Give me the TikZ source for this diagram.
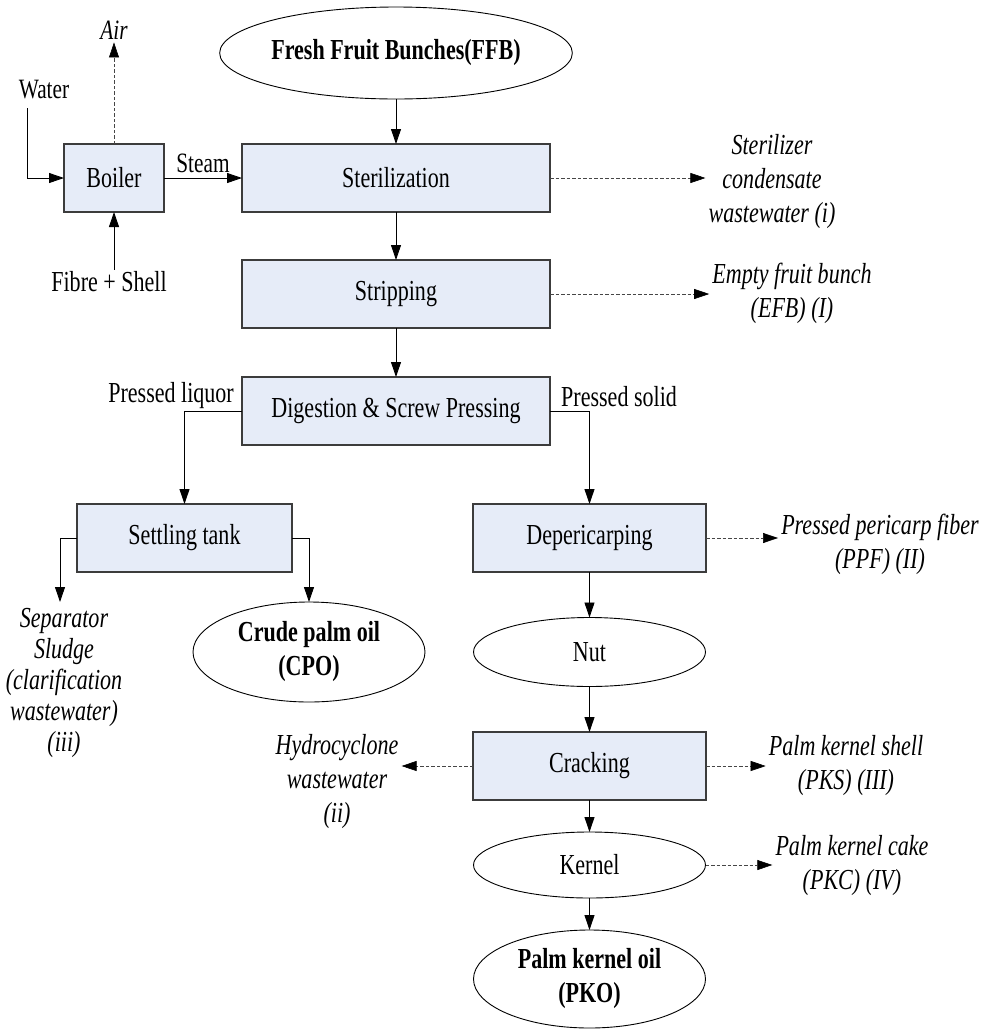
\documentclass[tikz,border=0pt]{standalone}
\usepackage{fontspec}
\setmainfont[FakeStretch=0.76]{Liberation Serif}
\usepackage{tikz}
\usetikzlibrary{arrows.meta, positioning, shapes.geometric}
\definecolor{boxfill}{RGB}{230,236,248}
\definecolor{boxline}{RGB}{60,60,60}
\definecolor{dashgray}{RGB}{70,70,70}
\newcommand{\mainsz}{\fontsize{29}{34}\selectfont}
\newcommand{\smallsz}{\fontsize{28}{32}\selectfont}

\begin{document}
\begin{tikzpicture}[x=1pt, y=-1pt,
  >={Triangle[length=15pt, width=10pt]},
  unit/.style={draw=boxline, fill=boxfill, line width=1.2pt, minimum height=68pt,
    inner sep=0pt, outer sep=0pt, font=\mainsz},
  prod/.style={draw, ellipse, line width=0.9pt, minimum width=232pt, inner sep=0pt,
    outer sep=0pt, align=center, font=\mainsz\bfseries},
  waste/.style={font=\mainsz\itshape, align=center, inner sep=3pt},
  lbl/.style={font=\mainsz, inner sep=2pt},
  flow/.style={->, line width=0.9pt},
  drain/.style={-{Triangle[length=15pt, width=10pt, color=black]}, dashed,
    dash pattern=on 3.5pt off 2pt, line width=0.6pt, draw=dashgray}
]
\useasboundingbox (0,0) rectangle (987,1029);

% process units
\node[unit, minimum width=100pt] (boiler) at (114,178) {Boiler};
\node[unit, minimum width=308pt] (steril) at (396,178) {Sterilization};
\node[unit, minimum width=308pt, below=48pt of steril] (strip) {Stripping};
\node[unit, minimum width=308pt, below=49pt of strip] (digest) {Digestion \& Screw Pressing};
\node[unit, minimum width=215pt] (settle) at (184.5,538) {Settling tank};
\node[unit, minimum width=233pt] (deper) at (589.5,538) {Depericarping};
\node[unit, minimum width=233pt] (crack) at (589.5,766) {Cracking};

% feed and products
\node[prod, minimum width=314pt, minimum height=92pt] (ffb) at (396,53) {Fresh Fruit Bunches(FFB)};
\node[prod, minimum height=100pt] (cpo) at (309,652) {Crude palm oil\\(CPO)};
\node[prod, font=\mainsz, minimum height=69pt] (nut) at (589.5,652) {Nut};
\node[prod, font=\mainsz, minimum height=66pt] (kernel) at (589.5,865) {Kernel};
\node[prod, minimum height=98pt] (pko) at (589.5,979) {Palm kernel oil\\(PKO)};

% side streams
\node[waste] (sterw) at (772,182) {Sterilizer\\condensate\\wastewater (i)};
\node[waste] (efb) at (792,293) {Empty fruit bunch\\(EFB) (I)};
\node[waste] (ppf) at (880,544) {Pressed pericarp fiber\\(PPF) (II)};
\node[waste] (hydro) at (337,782) {Hydrocyclone\\wastewater\\(ii)};
\node[waste] (pks) at (846,766) {Palm kernel shell\\(PKS) (III)};
\node[waste] (pkc) at (852,866) {Palm kernel cake\\(PKC) (IV)};
\node[waste, font=\fontsize{29}{31}\selectfont\itshape] (sludge) at (64,683) {Separator\\Sludge\\(clarification\\wastewater)\\(iii)};
\node[waste, font=\smallsz\itshape] (air) at (114,30) {Air};
\node[lbl, font=\smallsz] (water) at (44,90) {Water};
\node[lbl] (fibre) at (109,282) {Fibre + Shell};
\node[lbl, anchor=base east] (liquor) at ([xshift=-6pt, yshift=9pt]digest.west) {Pressed liquor};
\node[lbl, anchor=base west] (solid) at ([xshift=9pt, yshift=5pt]digest.east) {Pressed solid};

\coordinate (win) at (27.5,108);
\coordinate (slout) at (60,602);

% main flows
\draw[flow] (ffb) -- (steril);
\draw[flow] (steril) -- (strip);
\draw[flow] (strip) -- (digest);
\draw[flow] (boiler) -- node[lbl, above=3pt, font=\smallsz] (steam) {Steam} (steril);
\draw[flow] (win) |- (boiler.west);
\draw[flow] (fibre.north -| boiler.south) -- (boiler.south);
\draw[flow] (digest.west) -| (settle.north);
\draw[flow] (digest.east) -| (deper.north);
\draw[flow] (settle.west) -| (slout);
\draw[flow] (settle.east) -| (cpo.north);
\draw[flow] (deper) -- (nut);
\draw[flow] (nut) -- (crack);
\draw[flow] (crack) -- (kernel);
\draw[flow] (kernel) -- (pko);

% waste streams
\draw[drain] (boiler) -- (air);
\draw[drain] (steril.east) -- (steril.east -| sterw.west);
\draw[drain] (strip.east) -- (strip.east -| efb.west);
\draw[drain] (deper.east) -- (deper.east -| ppf.west);
\draw[drain] (crack.west) -- (crack.west -| hydro.east);
\draw[drain] (crack.east) -- (crack.east -| pks.west);
\draw[drain] (kernel.east) -- (kernel.east -| pkc.west);
\end{tikzpicture}
\end{document}
